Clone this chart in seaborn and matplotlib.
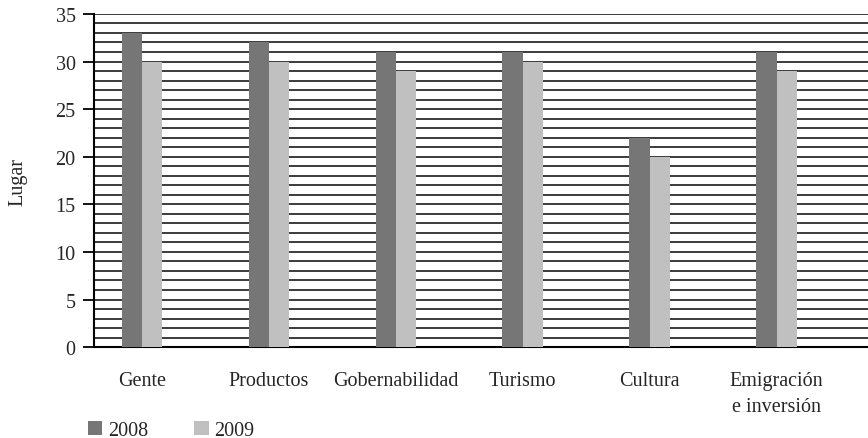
import matplotlib
matplotlib.use("Agg")
import matplotlib.pyplot as plt
from matplotlib.ticker import MultipleLocator
from matplotlib.patches import Patch
import seaborn as sns
import pandas as pd

categories = ["Gente", "Productos", "Gobernabilidad", "Turismo", "Cultura", "Emigración\ne inversión"]
values_2008 = [33, 32, 31, 31, 22, 31]
values_2009 = [30, 30, 29, 30, 20, 29]
years = ["2008", "2009"]
colors = ["#767676", "#c0c0c0"]

df = pd.DataFrame({
    "Categoría": categories * 2,
    "Lugar": values_2008 + values_2009,
    "Año": [years[0]] * len(categories) + [years[1]] * len(categories),
})

sns.set_style("white")
plt.rcParams["font.family"] = ["Liberation Serif", "DejaVu Serif"]

FS = 14.5
fig = plt.figure(figsize=(8.68, 4.39), dpi=100)
ax = fig.add_axes([0.108, 0.207, 0.892, 0.759])

sns.barplot(data=df, x="Categoría", y="Lugar", hue="Año", order=categories,
            palette=colors, width=0.32, gap=0, edgecolor="none", linewidth=0,
            legend=False, ax=ax, zorder=3)

ax.set_ylim(0, 35)
ax.set_xlim(-0.38, 5.72)
ax.yaxis.set_major_locator(MultipleLocator(5))
ax.yaxis.set_minor_locator(MultipleLocator(1))
ax.grid(which="both", axis="y", color="#1a1a1a", linewidth=1.2, zorder=0)
ax.grid(which="both", axis="x", visible=False)
ax.set_axisbelow(True)

for s in ["top", "right"]:
    ax.spines[s].set_visible(False)
for s in ["left", "bottom"]:
    ax.spines[s].set_color("black")
    ax.spines[s].set_linewidth(1.5)

ax.tick_params(axis="y", which="major", direction="out", length=8, width=1.3,
               color="black", labelsize=FS, pad=5, left=True)
ax.tick_params(axis="y", which="minor", length=0)
ax.tick_params(axis="x", length=0, labelsize=FS, pad=17)
for lab in ax.get_xticklabels():
    lab.set_horizontalalignment("center")
    lab.set_verticalalignment("top")
    lab.set_multialignment("center")
    lab.set_linespacing(1.5)

ax.set_xlabel("")
ax.set_ylabel("Lugar", fontsize=FS, labelpad=20)

handles = [Patch(facecolor=c, edgecolor="none", label=y) for c, y in zip(colors, years)]
fig.legend(handles=handles, loc="lower left", bbox_to_anchor=(0.085, -0.036),
           ncol=2, frameon=False, fontsize=FS, handlelength=0.7, handleheight=0.7,
           handletextpad=0.3, columnspacing=2.3, borderpad=0.2)

fig.savefig("out.png", dpi=100)
